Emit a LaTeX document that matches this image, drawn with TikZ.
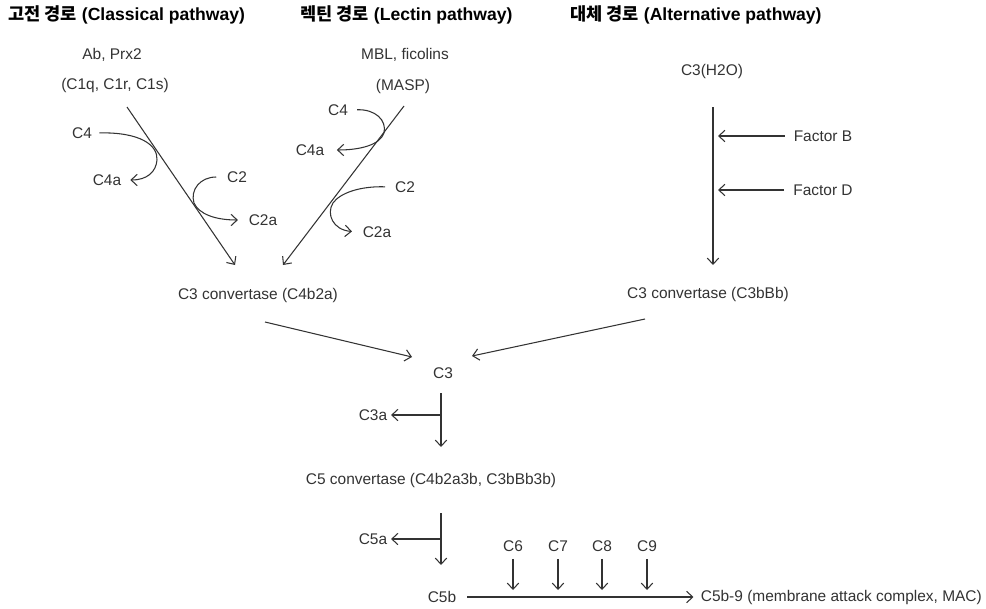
\documentclass[tikz,border=0pt]{standalone}
\usepackage{fontspec}
\setmainfont{Liberation Sans}
\newfontfamily\krfont{Noto Sans CJK KR}
\usetikzlibrary{arrows.meta}

\begin{document}
\begin{tikzpicture}[x=0.02cm,y=-0.02cm,
  lbl/.style={font=\fontsize{8.8}{10}\selectfont, text=black!80, inner sep=2pt},
  ttl/.style={font=\fontsize{10}{12}\selectfont\bfseries, anchor=west, inner sep=0pt},
  arr/.style={draw=black!80, line width=0.6pt, -{Straight Barb[length=3.5pt,width=6.5pt]}}]

\useasboundingbox (0,0) rectangle (986,608);

%%%%% Titles
\node[ttl] (tcl) at (8,15) {{\krfont 고전 경로} (Classical pathway)};
\node[ttl] (tlec) at (300,15) {{\krfont 렉틴 경로} (Lectin pathway)};
\node[ttl] (talt) at (570,15) {{\krfont 대체 경로} (Alternative pathway)};

%%%%% Classical pathway
\node[lbl] (ab) at (112,55) {Ab, Prx2}; \node[lbl] (c1) at (115,86) {(C1q, C1r, C1s)};
\node[lbl] (c4) at (82,133) {C4}; \node[lbl] (c4a) at (107,180) {C4a};
\node[lbl] (c2) at (237,177) {C2}; \node[lbl] (c2a) at (263,220) {C2a};
\coordinate (cltop) at (127,107); \coordinate (clend) at (235,265);

\draw[arr] (cltop) -- (clend);
\draw[arr, shorten <=2pt, shorten >=3pt] (c4.east) .. controls (140,132) and (158,145) .. (157,160) .. controls (156,172) and (147,180) .. (c4a.east);
\draw[arr, shorten <=4pt, shorten >=4pt] (c2.west) .. controls (200,177) and (190,190) .. (194,203) .. controls (199,214) and (215,220) .. (c2a.west);

%%%%% Lectin pathway
\node[lbl] (mbl) at (405,55) {MBL, ficolins}; \node[lbl] (masp) at (403,86) {(MASP)};
\node[lbl] (lc4) at (338,110) {C4}; \node[lbl] (lc4a) at (310,150) {C4a};
\node[lbl] (lc2) at (405,187) {C2}; \node[lbl] (lc2a) at (377,232) {C2a};
\coordinate (lectop) at (404,106); \coordinate (lecend) at (283,265);

\draw[arr] (lectop) -- (lecend);
\draw[arr, shorten <=3pt, shorten >=5pt] (lc4.east) .. controls (375,109) and (387,120) .. (384,133) .. controls (380,145) and (360,150) .. (lc4a.east);
\draw[arr, shorten <=3.5pt, shorten >=4pt] (lc2.west) .. controls (360,186) and (340,193) .. (333,203) .. controls (326,214) and (333,230) .. (lc2a.west);

%%%%% Alternative pathway
\node[lbl] (h2o) at (712,71) {C3(H2O)};
\node[lbl] (fb) at (823,136) {Factor B}; \node[lbl] (fd) at (823,190) {Factor D};
\coordinate (alttop) at (713,107); \coordinate (altend) at (713,265);
\coordinate (fbtip) at (718,136); \coordinate (fdtip) at (718,190);

\draw[arr] (alttop) -- (altend);
\draw[arr, shorten <=3pt] (fb.west) -- (fbtip);
\draw[arr, shorten <=3pt] (fd.west) -- (fdtip);

%%%%% C3 convertases to C3
\node[lbl] (conv1) at (258,295) {C3 convertase (C4b2a)};
\node[lbl] (conv2) at (708,294) {C3 convertase (C3bBb)};
\node[lbl] (c3) at (443,373) {C3};
\coordinate (cv1s) at (265,322); \coordinate (cv1e) at (412,357);
\coordinate (cv2s) at (645,319); \coordinate (cv2e) at (472,356);

\draw[arr] (cv1s) -- (cv1e);
\draw[arr] (cv2s) -- (cv2e);

%%%%% C3 to C5 convertase
\node[lbl] (c3a) at (373,415) {C3a};
\node[lbl] (conv5) at (431,480) {C5 convertase (C4b2a3b, C3bBb3b)};
\coordinate (c3s) at (441,393); \coordinate (j3) at (441,415); \coordinate (c3e) at (441,447);

\draw[arr] (c3s) -- (c3e);
\draw[arr] (j3) -- (c3a);

%%%%% C5 convertase to MAC
\node[lbl] (c5a) at (373,539) {C5a};
\node[lbl] (c5b) at (442,597) {C5b};
\node[lbl, anchor=west] (mac) at (697,597) {C5b-9 (membrane attack complex, MAC)};
\coordinate (c5s) at (441,513); \coordinate (j5) at (441,539); \coordinate (c5e) at (441,565);

\draw[arr] (c5s) -- (c5e);
\draw[arr] (j5) -- (c5a);
\draw[arr, shorten <=4pt, shorten >=2pt] (c5b) -- (mac);

\foreach \n/\x in {6/513,7/558,8/602,9/647}{
  \node[lbl] (c\n) at (\x,546) {C\n};
  \coordinate (c\n tip) at (\x,590);
  \draw[arr, shorten <=2pt] (c\n.south) -- (c\n tip);
}

\end{tikzpicture}
\end{document}
